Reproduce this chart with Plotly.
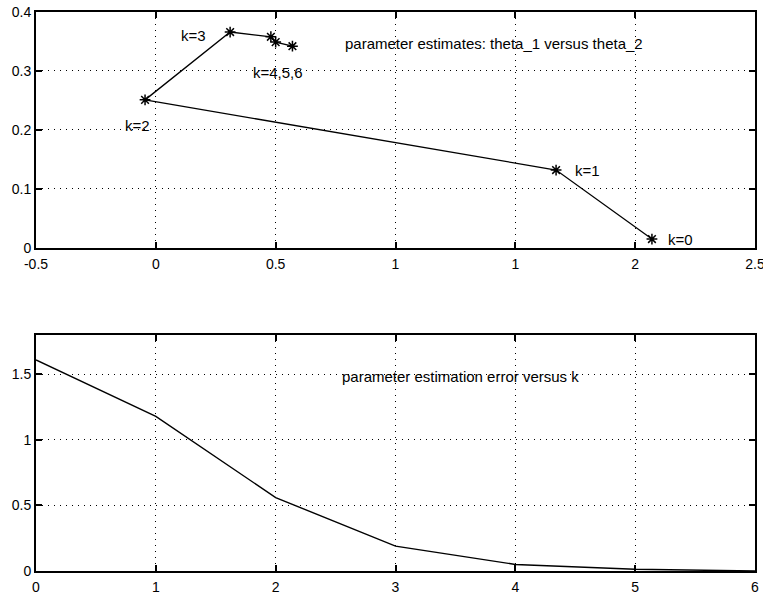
import plotly.graph_objects as go
from plotly.subplots import make_subplots

# Data
theta1 = [2.07, 1.67, -0.045, 0.31, 0.48, 0.50, 0.57]
theta2 = [0.015, 0.132, 0.251, 0.366, 0.358, 0.349, 0.342]
k_vals = [0, 1, 2, 3, 4, 5, 6]
err_vals = [1.61, 1.18, 0.56, 0.19, 0.05, 0.013, 0.0]

top_xticks = [-0.5, 0, 0.5, 1, 1.5, 2, 2.5]
top_xlabels = ["-0.5", "0", "0.5", "1", "1", "2", "2.5"]
top_yticks = [0, 0.1, 0.2, 0.3, 0.4]
top_ylabels = ["0", "0.1", "0.2", "0.3", "0.4"]
bot_xticks = [0, 1, 2, 3, 4, 5, 6]
bot_yticks = [0, 0.5, 1, 1.5]
bot_ylabels = ["0", "0.5", "1", "1.5"]

fig = make_subplots(rows=2, cols=1, vertical_spacing=0.0)

fig.add_trace(go.Scatter(x=theta1, y=theta2, mode="lines+markers",
                         line=dict(color="black", width=1.3),
                         marker=dict(symbol="asterisk-open", size=9,
                                     line=dict(color="black", width=1.5)),
                         showlegend=False), row=1, col=1)
fig.add_trace(go.Scatter(x=k_vals, y=err_vals, mode="lines",
                         line=dict(color="black", width=1.4),
                         showlegend=False), row=2, col=1)

tickfont = dict(family="Liberation Sans, Arial, sans-serif", size=14, color="black")
annfont = dict(family="Liberation Sans, Arial, sans-serif", size=15, color="black")

axis_common = dict(showline=True, linecolor="black", linewidth=2, mirror="ticks",
                   ticks="inside", ticklen=6, tickwidth=1.5, tickcolor="black",
                   showgrid=True, gridcolor="black", griddash="1px,5px", gridwidth=1.2,
                   zeroline=False, tickfont=tickfont, automargin=False,
                   ticklabeloverflow="allow")

fig.update_xaxes(axis_common)
fig.update_yaxes(axis_common)
fig.update_xaxes(ticklabelstandoff=2)

fig.update_xaxes(range=[-0.5, 2.5], tickvals=top_xticks, ticktext=top_xlabels,
                 domain=[0, 1], row=1, col=1)
fig.update_yaxes(range=[0, 0.4], tickvals=top_yticks, ticktext=top_ylabels,
                 domain=[0.578, 1.0], row=1, col=1)
fig.update_xaxes(range=[0, 6], tickvals=bot_xticks, domain=[0, 1], row=2, col=1)
fig.update_yaxes(range=[0, 1.8], tickvals=bot_yticks, ticktext=bot_ylabels,
                 domain=[0, 0.422], row=2, col=1)

ann = [
    ("k=0", 2.13, 0.015, "left", "x", "y"),
    ("k=1", 1.74, 0.132, "left", "x", "y"),
    ("k=2", -0.075, 0.208, "center", "x", "y"),
    ("k=3", 0.158, 0.361, "center", "x", "y"),
    ("k=4,5,6", 0.508, 0.298, "center", "x", "y"),
    ("parameter estimates: theta_1 versus theta_2", 0.78, 0.346, "left", "x", "y"),
    ("parameter estimation error versus k", 2.54, 1.485, "left", "x2", "y2"),
]
for text, ax, ay, anchor, xr, yr in ann:
    fig.add_annotation(x=ax, y=ay, xref=xr, yref=yr, text=text, showarrow=False,
                       xanchor=anchor, yanchor="middle", font=annfont)

fig.update_layout(width=763, height=599, paper_bgcolor="white", plot_bgcolor="white",
                  margin=dict(l=36, r=8, t=12, b=28, autoexpand=False), font=tickfont)

# remove the default page margin so the figure fills the window exactly
fig.write_html("out.html", config={"displayModeBar": False},
               post_script="document.body.style.margin='0px';document.body.style.overflow='hidden';")
